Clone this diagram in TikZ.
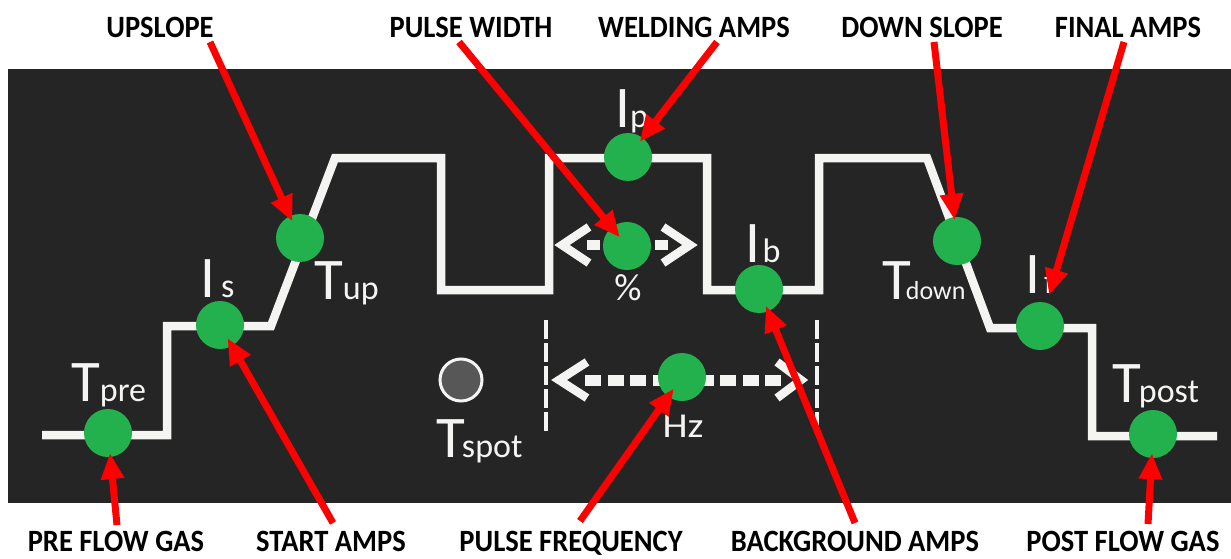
\documentclass[tikz,border=0pt]{standalone}
\usepackage{fontspec}
\setmainfont{Carlito}
\usetikzlibrary{arrows.meta}
\definecolor{panel}{HTML}{252525}
\definecolor{dotgreen}{HTML}{22B14C}
\definecolor{wave}{HTML}{F4F4F2}
\definecolor{spotgray}{HTML}{575757}
\newcommand\bigsz{\fontsize{59}{59}\selectfont}
\newcommand\subsz{\fontsize{34}{34}\selectfont}
\newcommand\smallsub{\fontsize{26}{26}\selectfont}
\newcommand\cond[1]{\scalebox{0.92}[1]{#1}}
\begin{document}
\begin{tikzpicture}[x=1pt,y=-1pt,
  dot/.style={circle,fill=dotgreen,minimum size=48pt,inner sep=0pt},
  blbl/.style={anchor=base,inner sep=0pt,font=\bfseries\fontsize{31}{31}\selectfont},
  wlbl/.style={anchor=base west,inner sep=0pt,text=wave},
  clbl/.style={anchor=base,inner sep=0pt,text=wave},
  redarrow/.style={draw=red,line width=7pt,-{Triangle[length=26pt,width=22pt]}},
  waveline/.style={draw=wave,line width=8.5pt,line join=miter},
  chev/.style={draw=wave,line width=8.5pt,line join=miter},
  dashshaft/.style={draw=wave,line width=11pt},
  guide/.style={draw=wave,line width=3.5pt,dash pattern=on 19pt off 4pt}
]
\useasboundingbox (0,0) rectangle (1231,559);
\fill[panel] (8,69) rectangle (1231,503);

% waveform
\draw[waveline] (42,435) -- (167,435) -- (167,326) -- (271,326) -- (335,158)
  -- (441,158) -- (441,290) -- (549,290) -- (549,158) -- (707,158)
  -- (707,290) -- (819,290) -- (819,158) -- (927,158) -- (990,328)
  -- (1092,328) -- (1092,436) -- (1217,436);

% frequency guides
\draw[guide] (546,320) -- (546,431);
\draw[guide] (817,320) -- (817,431);

% pulse width arrow
\coordinate (pwL) at (562,245);
\coordinate (pwR) at (690,245);
\draw[dashshaft,line width=10pt,dash pattern=on 13pt off 55pt] (587,245) -- (668,245);
\draw[chev] ([shift={(27,-18)}]pwL) -- (pwL) -- ([shift={(27,18)}]pwL);
\draw[chev] ([shift={(-27,-18)}]pwR) -- (pwR) -- ([shift={(-27,18)}]pwR);

% frequency arrow
\coordinate (hzL) at (559,380);
\coordinate (hzR) at (801,380);
\draw[dashshaft,dash pattern=on 16pt off 6.5pt] (585,380) -- (781,380);
\draw[chev] ([shift={(28,-18)}]hzL) -- (hzL) -- ([shift={(28,18)}]hzL);
\draw[chev] ([shift={(-24,-18)}]hzR) -- (hzR) -- ([shift={(-24,18)}]hzR);

% spot indicator
\node[circle,draw=wave,line width=3pt,fill=spotgray,minimum size=42pt,inner sep=0pt] (spot) at (461,380) {};

% green dots
\node[dot] (dPre)  at (108,433) {};
\node[dot] (dIs)   at (220,325) {};
\node[dot] (dUp)   at (300,238) {};
\node[dot] (dIp)   at (628,157) {};
\node[dot] (dPct)  at (627,246) {};
\node[dot] (dIb)   at (759,289) {};
\node[dot] (dHz)   at (682,377) {};
\node[dot] (dDown) at (957,241) {};
\node[dot] (dIf)   at (1040,326) {};
\node[dot] (dPost) at (1153,434) {};

% white labels
\node[wlbl] (lPre)  at (71,401)  {{\bigsz T}{\subsz pre}};
\node[wlbl] (lIs)   at (200,297) {{\bigsz I}\hspace{6pt}{\subsz s}};
\node[wlbl] (lUp)   at (314,299) {{\bigsz T}{\subsz up}};
\node[wlbl] (lIp)   at (615,128) {{\bigsz I}{\subsz p}};
\node[wlbl] (lIb)   at (745,262) {{\bigsz I}\hspace{2.5pt}{\subsz b}};
\node[wlbl] (lSpot) at (436,457) {{\bigsz T}\hspace{-3pt}{\subsz spot}};
\node[wlbl] (lDown) at (882,299) {{\bigsz T}\hspace{-5pt}{\smallsub down}};
\node[wlbl] (lIf)   at (1025,293) {{\bigsz I}\hspace{4pt}{\subsz f}};
\node[wlbl] (lPost) at (1112,402) {{\bigsz T}\hspace{-2pt}{\subsz post}};
\node[clbl,font=\fontsize{38}{38}\selectfont] (lPct) at (628,300) {\%};
\node[clbl,font=\fontsize{35}{35}\selectfont] (lHz) at (683,437) {\scalebox{1.15}[1]{Hz}};

% black labels
\node[blbl] (tUp)   at (160,38) {\cond{UPSLOPE}};
\node[blbl] (tPW)   at (471,38) {\cond{PULSE WIDTH}};
\node[blbl] (tWA)   at (694,38) {\cond{WELDING AMPS}};
\node[blbl] (tDS)   at (922,38) {\cond{DOWN SLOPE}};
\node[blbl] (tFA)   at (1128,38) {\cond{FINAL AMPS}};
\node[blbl] (bPre)  at (116,551) {\cond{PRE FLOW GAS}};
\node[blbl] (bSA)   at (331,551) {\cond{START AMPS}};
\node[blbl] (bPF)   at (571,551) {\cond{PULSE FREQUENCY}};
\node[blbl] (bBA)   at (855,551) {\cond{BACKGROUND AMPS}};
\node[blbl] (bPost) at (1123,551) {\cond{POST FLOW GAS}};

% arrow tails
\coordinate (aUp)   at (210,42);
\coordinate (aPW)   at (459,42);
\coordinate (aWA)   at (717,42);
\coordinate (aDS)   at (934,42);
\coordinate (aFA)   at (1124,42);
\coordinate (aPre)  at (117,525);
\coordinate (aSA)   at (333,523);
\coordinate (aPF)   at (580,521);
\coordinate (aBA)   at (855,523);
\coordinate (aPost) at (1148,524);

% red arrows
\draw[redarrow,shorten >=-6pt]  (aUp)   -- (dUp);
\draw[redarrow,shorten >=-13pt] (aPW)   -- (dPct);
\draw[redarrow,shorten >=-5pt]  (aWA)   -- (dIp);
\draw[redarrow,shorten >=-3pt]  (aDS)   -- (dDown);
\draw[redarrow,shorten >=8pt]   (aFA)   -- (dIf);
\draw[redarrow,shorten >=-4pt]  (aPre)  -- (dPre);
\draw[redarrow,shorten >=-9pt]  (aSA)   -- (dIs);
\draw[redarrow,shorten >=-10pt] (aPF)   -- (dHz);
\draw[redarrow,shorten >=-6pt]  (aBA)   -- (dIb);
\draw[redarrow,shorten >=-5pt]  (aPost) -- (dPost);
\end{tikzpicture}
\end{document}
